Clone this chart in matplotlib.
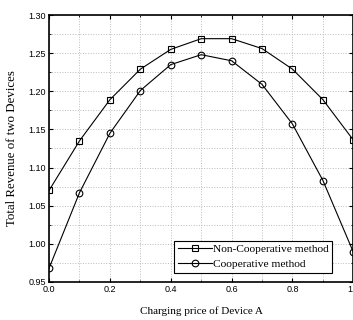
import matplotlib
matplotlib.use("Agg")
from matplotlib import pyplot as plt
from matplotlib.ticker import MultipleLocator

# Data
prices = [0.0, 0.1, 0.2, 0.3, 0.4, 0.5, 0.6, 0.7, 0.8, 0.9, 1.0]
non_coop = [1.070, 1.135, 1.189, 1.229, 1.255, 1.269, 1.269, 1.256, 1.229, 1.189, 1.136]
coop = [0.968, 1.067, 1.145, 1.201, 1.235, 1.248, 1.240, 1.209, 1.157, 1.083, 0.989]

fig = plt.figure(figsize=(3.53, 3.20), dpi=100)
ax = fig.add_axes([0.139, 0.119, 0.862, 0.834])

ax.plot(prices, non_coop, color='black', linewidth=0.8, marker='s', markersize=4.2,
        markerfacecolor='none', markeredgewidth=0.8, label='Non-Cooperative method')
ax.plot(prices, coop, color='black', linewidth=0.8, marker='o', markersize=4.8,
        markerfacecolor='none', markeredgewidth=0.8, label='Cooperative method')

ax.set_xlim(0.0, 1.0)
ax.set_ylim(0.95, 1.30)
ax.xaxis.set_major_locator(MultipleLocator(0.2))
ax.xaxis.set_minor_locator(MultipleLocator(0.1))
ax.yaxis.set_major_locator(MultipleLocator(0.05))
ax.yaxis.set_minor_locator(MultipleLocator(0.025))
ax.set_xticklabels([f"{v:.1f}" for v in ax.get_xticks()])
ax.set_yticklabels([f"{v:.2f}" for v in ax.get_yticks()])

ax.grid(True, which='both', color='#bbbbbb', linestyle=':', linewidth=0.7)
ax.tick_params(which='both', direction='in', top=True, right=True, labelsize=6.5,
               labelfontfamily='Liberation Sans', pad=2)
ax.tick_params(which='major', length=3, width=0.8)
ax.tick_params(which='minor', length=1.5, width=0.6)
for spine in ax.spines.values():
    spine.set_linewidth(1.2)

ax.set_xlabel('Charging price of Device A', family='Liberation Serif', fontsize=8, labelpad=9)
ax.set_ylabel('Total Revenue of two Devices', family='Liberation Serif', fontsize=9.3, labelpad=8)

leg = ax.legend(loc='lower right', bbox_to_anchor=(0.930, 0.034),
                prop={'family': 'Liberation Serif', 'size': 8.2},
                frameon=True, fancybox=False, edgecolor='black', framealpha=1,
                handlelength=3.0, handletextpad=0.1, borderpad=0.3, labelspacing=0.45,
                borderaxespad=0)
leg.get_frame().set_linewidth(0.8)

fig.savefig("out.png", dpi=100)
